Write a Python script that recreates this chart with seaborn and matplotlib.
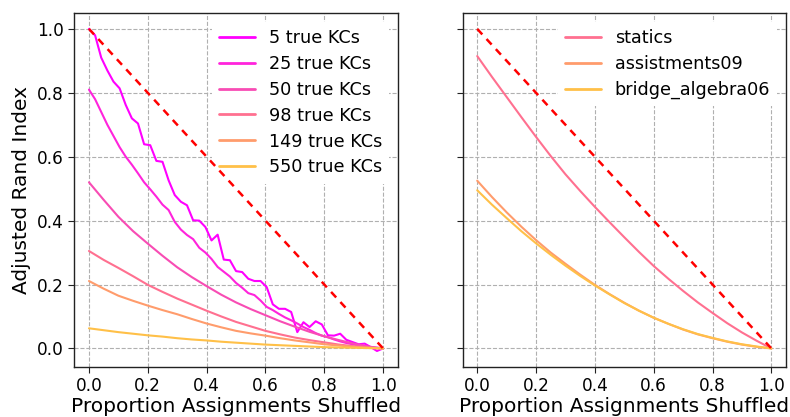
import numpy as np
import pandas as pd
import matplotlib
matplotlib.use("Agg")
import matplotlib.pyplot as plt
import seaborn as sns

# ---------------- data ----------------
x_fine = np.linspace(0, 1, 49)
x_coarse = np.linspace(0, 1, 21)

kc5 = [1.0, 0.98, 0.91, 0.87, 0.835, 0.814, 0.762, 0.72, 0.704, 0.639, 0.636, 0.587,
       0.584, 0.526, 0.48, 0.459, 0.448, 0.401, 0.40, 0.38, 0.338, 0.356, 0.278, 0.276,
       0.242, 0.239, 0.218, 0.211, 0.211, 0.192, 0.138, 0.124, 0.124, 0.114, 0.051, 0.082,
       0.067, 0.085, 0.075, 0.041, 0.040, 0.046, 0.027, 0.020, 0.013, 0.015, 0.004, -0.008, 0.0]
kc25 = [0.81, 0.78, 0.74, 0.70, 0.665, 0.63, 0.60, 0.575, 0.548, 0.52, 0.498, 0.475,
        0.45, 0.433, 0.396, 0.372, 0.355, 0.342, 0.315, 0.30, 0.28, 0.255, 0.24, 0.225,
        0.205, 0.19, 0.173, 0.167, 0.15, 0.13, 0.12, 0.108, 0.097, 0.088, 0.078, 0.067,
        0.058, 0.048, 0.040, 0.035, 0.028, 0.022, 0.017, 0.013, 0.009, 0.006, 0.004, 0.002, 0.0]
kc50 = [0.52, 0.465, 0.412, 0.367, 0.328, 0.29, 0.254, 0.223, 0.195, 0.168, 0.144,
        0.123, 0.104, 0.085, 0.068, 0.052, 0.038, 0.026, 0.015, 0.006, 0.0]
kc98 = [0.305, 0.277, 0.252, 0.226, 0.199, 0.177, 0.156, 0.137, 0.118, 0.1, 0.083,
        0.069, 0.055, 0.044, 0.034, 0.026, 0.019, 0.012, 0.007, 0.003, 0.0]
kc149 = [0.211, 0.187, 0.165, 0.149, 0.134, 0.12, 0.107, 0.092, 0.078, 0.066, 0.055,
         0.047, 0.04, 0.032, 0.025, 0.019, 0.013, 0.009, 0.005, 0.002, 0.0]
kc550 = [0.063, 0.057, 0.051, 0.046, 0.041, 0.037, 0.032, 0.028, 0.025, 0.021, 0.018,
         0.015, 0.012, 0.010, 0.008, 0.006, 0.004, 0.003, 0.002, 0.001, 0.0]

statics = [0.915, 0.85, 0.787, 0.724, 0.662, 0.602, 0.545, 0.493, 0.443, 0.395, 0.348,
           0.302, 0.258, 0.218, 0.18, 0.144, 0.111, 0.079, 0.05, 0.024, 0.0]
assistments09 = [0.525, 0.474, 0.426, 0.381, 0.339, 0.3, 0.265, 0.231, 0.199, 0.17, 0.143,
                 0.118, 0.096, 0.077, 0.059, 0.044, 0.032, 0.021, 0.012, 0.005, 0.0]
bridge_algebra06 = [0.495, 0.45, 0.408, 0.367, 0.329, 0.293, 0.259, 0.227, 0.197, 0.169, 0.142,
                    0.118, 0.096, 0.077, 0.060, 0.045, 0.033, 0.022, 0.013, 0.006, 0.0]

left_labels = ["5 true KCs", "25 true KCs", "50 true KCs", "98 true KCs", "149 true KCs", "550 true KCs"]
right_labels = ["statics", "assistments09", "bridge_algebra06"]
diag_x = [0.0, 1.0]
diag_y = [1.0, 0.0]
x_ticks = [0.0, 0.2, 0.4, 0.6, 0.8, 1.0]

colors = ["#ff00ff", "#ff24dc", "#f84cb4", "#ff7090", "#ff9c6c", "#ffc048"]
right_colors = ["#ff7090", "#ff9c6c", "#ffc048"]

# ---------------- frames ----------------
left_series = [(x_fine, kc5), (x_fine, kc25), (x_coarse, kc50), (x_coarse, kc98),
               (x_coarse, kc149), (x_coarse, kc550)]
rows = []
for lab, (xs, ys) in zip(left_labels, left_series):
    for xv, yv in zip(xs, ys):
        rows.append({"x": xv, "y": yv, "series": lab})
df_left = pd.DataFrame(rows)

rows = []
for lab, ys in zip(right_labels, [statics, assistments09, bridge_algebra06]):
    for xv, yv in zip(x_coarse, ys):
        rows.append({"x": xv, "y": yv, "series": lab})
df_right = pd.DataFrame(rows)

# ---------------- plot ----------------
sns.set_style("ticks")
plt.rcParams["font.family"] = ["DejaVu Sans"]
plt.rcParams["text.color"] = "black"
plt.rcParams["axes.labelcolor"] = "black"
plt.rcParams["xtick.color"] = "black"
plt.rcParams["ytick.color"] = "black"

fig, axes = plt.subplots(1, 2, figsize=(7.9, 4.17), dpi=100, sharey=True)
fig.subplots_adjust(left=0.094, right=0.995, bottom=0.12, top=0.969, wspace=0.2)

panels = [(axes[0], df_left, left_labels, colors), (axes[1], df_right, right_labels, right_colors)]
for ax, df, labs, cols in panels:
    sns.lineplot(data=df, x="x", y="y", hue="series", hue_order=labs,
                 palette=dict(zip(labs, cols)), estimator=None, sort=False,
                 linewidth=1.5, ax=ax, legend=True)
    ax.plot(diag_x, diag_y, color="red", linestyle=(0, (3, 2.5)), linewidth=1.8,
            zorder=6, label="_nolegend_")
    ax.grid(True, linestyle="--", color="#b0b0b0", linewidth=0.8)
    ax.set_axisbelow(True)
    ax.set_xticks(x_ticks)
    ax.set_yticks(x_ticks)
    ax.tick_params(labelsize=12.2, length=4, color="#222222", labelcolor="black")
    ax.set_xlabel("Proportion Assignments Shuffled", fontsize=14.5, labelpad=1, color="black")
    ax.set_ylabel("Adjusted Rand Index", fontsize=14.5, labelpad=4, color="black")
    for sp in ax.spines.values():
        sp.set_visible(True)
        sp.set_color("#222222")
        sp.set_linewidth(1.0)
    handles, labels = ax.get_legend_handles_labels()
    leg = ax.legend(handles, labels, loc="upper right", fontsize=12.7, labelspacing=0.45,
                    frameon=True, facecolor="white", edgecolor="none", framealpha=1.0)
    for t in leg.get_texts():
        t.set_color("black")
    for h in leg.get_lines():
        h.set_linewidth(2.0)

axes[0].set_xlim(-0.05, 1.05)
axes[1].set_xlim(-0.05, 1.05)
axes[0].set_ylim(-0.058, 1.05)

fig.savefig("out.png", dpi=100)
